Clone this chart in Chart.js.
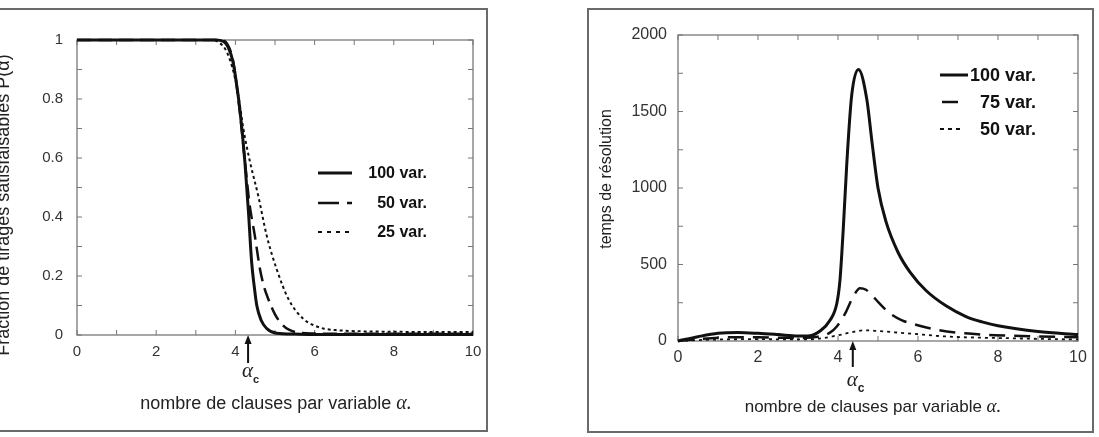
<!DOCTYPE html>
<html>
<head>
<meta charset="utf-8">
<script src="https://cdn.jsdelivr.net/npm/chart.js@4.4.0/dist/chart.umd.min.js"></script>
<style>
html,body{margin:0;padding:0;background:#fff;width:1099px;height:437px;overflow:hidden;position:relative;}
.box{position:absolute;border:2px solid #6a6a6a;box-sizing:border-box;}
#b1{left:-4px;top:8px;width:492px;height:424px;}
#b2{left:587px;top:8px;width:507px;height:425px;}
canvas{position:absolute;top:0;}
#c1{left:0;}
#c2{left:540px;}
</style>
</head>
<body>
<div class="box" id="b1"></div>
<div class="box" id="b2"></div>
<canvas id="c1" width="540" height="437" style="width:540px;height:437px"></canvas>
<canvas id="c2" width="559" height="437" style="width:559px;height:437px"></canvas>
<script>
// ---------- Left chart: fraction of satisfiable draws P(alpha) ----------
const sat100X = [0, 1, 2, 3, 3.5, 3.7, 3.82, 3.94, 4.03, 4.12, 4.24, 4.33, 4.41, 4.48, 4.54, 4.65, 4.79, 5.04, 5.5, 6, 7, 8, 9, 10];
const sat100Y = [1, 1, 1, 1, 1, 0.995, 0.975, 0.925, 0.85, 0.756, 0.586, 0.417, 0.247, 0.16, 0.1, 0.05, 0.022, 0.006, 0.003, 0.002, 0.002, 0.002, 0.002, 0.002];
const sat50X = [0, 1, 2, 3, 3.6, 3.8, 3.94, 4.1, 4.24, 4.35, 4.49, 4.62, 4.72, 4.83, 5.0, 5.17, 5.35, 5.6, 6, 7, 8, 9, 10];
const sat50Y = [1, 1, 1, 1, 1, 0.985, 0.93, 0.77, 0.59, 0.45, 0.337, 0.224, 0.165, 0.122, 0.07, 0.037, 0.018, 0.008, 0.005, 0.004, 0.004, 0.004, 0.004];
const sat25X = [0, 1, 2, 3, 3.43, 3.6, 3.74, 3.87, 3.99, 4.1, 4.2, 4.37, 4.58, 4.79, 5.04, 5.34, 5.72, 6.0, 6.22, 6.6, 7, 8, 9, 10];
const sat25Y = [1, 1, 1, 1, 1, 0.99, 0.97, 0.93, 0.87, 0.79, 0.70, 0.586, 0.47, 0.337, 0.224, 0.122, 0.054, 0.032, 0.022, 0.016, 0.013, 0.011, 0.01, 0.01];
const leftLabels = ['100 var.', '50 var.', '25 var.'];
const leftAlphaC = 4.32;

// ---------- Right chart: resolution time ----------
const time100X = [0, 0.5, 1, 1.5, 2, 2.5, 3, 3.3, 3.55, 3.8, 3.97, 4.05, 4.13, 4.22, 4.34, 4.51, 4.72, 4.85, 5.0, 5.2, 5.5, 5.8, 6.2, 6.7, 7.2, 7.6, 8, 9, 10];
const time100Y = [0, 28, 50, 55, 50, 42, 33, 35, 65, 135, 245, 400, 725, 1160, 1600, 1775, 1580, 1300, 1000, 780, 580, 450, 330, 230, 160, 125, 100, 62, 42];
const time75X = [0, 0.5, 1, 1.5, 2, 2.5, 3, 3.5, 3.8, 3.97, 4.18, 4.38, 4.55, 4.7, 4.88, 5.0, 5.3, 5.6, 5.97, 6.5, 7.17, 7.92, 9, 10];
const time75Y = [0, 12, 22, 25, 24, 22, 20, 28, 55, 95, 180, 290, 345, 335, 290, 256, 180, 135, 105, 72, 50, 38, 30, 25];
const time50X = [0, 0.5, 1, 2, 3, 3.5, 4.0, 4.3, 4.67, 5.0, 5.5, 5.83, 6.67, 7.5, 8.33, 9, 10];
const time50Y = [0, 6, 10, 12, 10, 15, 37, 55, 70, 65, 55, 48, 30, 22, 18, 14, 10];
const rightLabels = ['100 var.', '75 var.', '50 var.'];
const rightAlphaC = 4.37;

const xTitle = 'nombre de clauses par variable ';
const leftYTitle = 'Fraction de tirages satisfaisables P(\u03B1)';
const rightYTitle = 'temps de r\u00E9solution';

const SANS = '"Liberation Sans", Arial, Helvetica, sans-serif';
const SERIF = '"Liberation Serif", "DejaVu Serif", serif';
const INK = '#111';

function pts(xs, ys) { return xs.map((x, i) => ({x: x, y: ys[i]})); }

function series(label, xs, ys, width, dash) {
  return {label: label, data: pts(xs, ys), borderColor: INK, backgroundColor: INK,
    borderWidth: width, borderDash: dash, pointRadius: 0, fill: false,
    cubicInterpolationMode: 'monotone', clip: false};
}

function arrowAndAlpha(ctx, x, tipY, tailY, aY, aSize, cSize) {
  ctx.save();
  ctx.strokeStyle = INK; ctx.fillStyle = INK; ctx.lineWidth = 2;
  ctx.beginPath(); ctx.moveTo(x, tipY + 6); ctx.lineTo(x, tailY); ctx.stroke();
  ctx.beginPath(); ctx.moveTo(x, tipY); ctx.lineTo(x - 3.5, tipY + 9); ctx.lineTo(x + 3.5, tipY + 9); ctx.closePath(); ctx.fill();
  ctx.fillStyle = '#222';
  ctx.font = 'italic ' + aSize + 'px ' + SERIF;
  ctx.textAlign = 'right'; ctx.textBaseline = 'alphabetic';
  ctx.fillText('\u03B1', x + 5, aY);
  ctx.font = 'bold ' + cSize + 'px ' + SANS;
  ctx.textAlign = 'left';
  ctx.fillText('c', x + 5, aY + 6);
  ctx.restore();
}

function xAxisTitle(ctx, cx, baseY, size) {
  ctx.save();
  ctx.fillStyle = '#222';
  ctx.textBaseline = 'alphabetic'; ctx.textAlign = 'left';
  ctx.font = size + 'px ' + SANS;
  const w1 = ctx.measureText(xTitle).width;
  ctx.font = 'italic ' + (size + 2) + 'px ' + SERIF;
  const w2 = ctx.measureText('\u03B1.').width;
  const x0 = cx - (w1 + w2) / 2;
  ctx.font = size + 'px ' + SANS;
  ctx.fillText(xTitle, x0, baseY);
  ctx.font = 'italic ' + (size + 2) + 'px ' + SERIF;
  ctx.fillText('\u03B1.', x0 + w1, baseY);
  ctx.restore();
}

function yAxisTitle(ctx, text, baseX, cy, size) {
  ctx.save();
  ctx.translate(baseX, cy);
  ctx.rotate(-Math.PI / 2);
  ctx.fillStyle = '#222';
  ctx.font = size + 'px ' + SANS;
  ctx.textAlign = 'center'; ctx.textBaseline = 'alphabetic';
  ctx.fillText(text, 0, 0);
  ctx.restore();
}

function legendRow(ctx, x0, x1, y, width, dash, text, textRight, size) {
  ctx.save();
  ctx.strokeStyle = INK; ctx.lineWidth = width; ctx.setLineDash(dash);
  ctx.beginPath(); ctx.moveTo(x0, y); ctx.lineTo(x1, y); ctx.stroke();
  ctx.setLineDash([]);
  ctx.fillStyle = '#111';
  ctx.font = 'bold ' + size + 'px ' + SANS;
  ctx.textAlign = 'right'; ctx.textBaseline = 'middle';
  ctx.fillText(text, textRight, y + 1);
  ctx.restore();
}

function deco(drawExtra) {
  return {
    id: 'deco',
    beforeDatasetsDraw(chart) {
      const ctx = chart.ctx, a = chart.chartArea, x = chart.scales.x, y = chart.scales.y;
      ctx.save();
      ctx.strokeStyle = '#8a8a8a'; ctx.lineWidth = 1.5;
      ctx.strokeRect(a.left, a.top, a.right - a.left, a.bottom - a.top);
      ctx.lineWidth = 1; ctx.strokeStyle = '#777';
      const L = 5;
      ctx.beginPath();
      x.ticks.forEach(t => { const p = x.getPixelForValue(t.value);
        ctx.moveTo(p, a.bottom); ctx.lineTo(p, a.bottom - L);
        ctx.moveTo(p, a.top); ctx.lineTo(p, a.top + L); });
      y.ticks.forEach(t => { const p = y.getPixelForValue(t.value);
        ctx.moveTo(a.left, p); ctx.lineTo(a.left + L, p);
        ctx.moveTo(a.right, p); ctx.lineTo(a.right - L, p); });
      ctx.stroke();
      ctx.restore();
    },
    afterDraw(chart) { drawExtra(chart); }
  };
}

function baseOptions(pad, yWidth, xHeight, yMin, yMax, yStep, yCb, tickSize, xPad, yPad) {
  const tickFont = {family: SANS, size: tickSize};
  return {
    responsive: false, animation: false, maintainAspectRatio: false,
    layout: {padding: pad},
    plugins: {legend: {display: false}, tooltip: {enabled: false}},
    scales: {
      x: {type: 'linear', min: 0, max: 10,
        afterFit(s) { s.height = xHeight; },
        grid: {display: false, drawTicks: false}, border: {display: false},
        ticks: {stepSize: 1, autoSkip: false, maxRotation: 0, minRotation: 0, padding: xPad, color: '#333', font: tickFont,
          callback: v => (Math.round(v) % 2 === 0 ? String(Math.round(v)) : '')}},
      y: {type: 'linear', min: yMin, max: yMax,
        afterFit(s) { s.width = yWidth; },
        grid: {display: false, drawTicks: false}, border: {display: false},
        ticks: {stepSize: yStep, autoSkip: false, padding: yPad, color: '#333', font: tickFont, callback: yCb}}
    }
  };
}

// Left chart
new Chart(document.getElementById('c1'), {
  type: 'line',
  data: {datasets: [
    series(leftLabels[0], sat100X, sat100Y, 3, []),
    series(leftLabels[1], sat50X, sat50Y, 2.5, [14, 7]),
    series(leftLabels[2], sat25X, sat25Y, 2, [3, 3])
  ]},
  options: baseOptions({left: 0, top: 40, right: 67, bottom: 62}, 77, 40, 0, 1, 0.1,
    v => { const k = Math.round(v * 10); if (k % 2) return ''; return k === 0 ? '0' : (k === 10 ? '1' : (k / 10).toFixed(1)); },
    15, 8, 14),
  plugins: [deco(chart => {
    const ctx = chart.ctx, a = chart.chartArea, xs = chart.scales.x;
    const cx = (a.left + a.right) / 2;
    xAxisTitle(ctx, cx + 1, 409, 18);
    yAxisTitle(ctx, leftYTitle, 8.5, 205, 18);
    arrowAndAlpha(ctx, xs.getPixelForValue(leftAlphaC), a.bottom, a.bottom + 28, 377, 21, 11);
    const styles = [[3, []], [2.5, [21, 8, 5, 100]], [1.8, [4, 5]]];
    const rows = [a.top + 133, a.top + 163, a.top + 192];
    rows.forEach((yy, i) => legendRow(ctx, a.left + 241, a.left + 275, yy, styles[i][0], styles[i][1], leftLabels[i], a.left + 350, 16));
  })]
});

// Right chart
new Chart(document.getElementById('c2'), {
  type: 'line',
  data: {datasets: [
    series(rightLabels[0], time100X, time100Y, 3, []),
    series(rightLabels[1], time75X, time75Y, 2.5, [16, 9]),
    series(rightLabels[2], time50X, time50Y, 1.8, [3, 4])
  ]},
  options: baseOptions({left: 0, top: 35, right: 21, bottom: 56}, 138, 40, 0, 2000, 250,
    v => (v % 500 === 0 ? String(v) : ''),
    16, 7, 11),
  plugins: [deco(chart => {
    const ctx = chart.ctx, a = chart.chartArea, xs = chart.scales.x;
    const cx = (a.left + a.right) / 2;
    xAxisTitle(ctx, cx - 5, 412, 17);
    yAxisTitle(ctx, rightYTitle, 71, 179, 16);
    arrowAndAlpha(ctx, xs.getPixelForValue(rightAlphaC), a.bottom, a.bottom + 26, 386, 21, 12);
    const styles = [[3, []], [2.5, []], [1.8, [4, 4]]];
    const segs = [[a.left + 262, a.left + 290], [a.left + 264, a.left + 280], [a.left + 262, a.left + 282]];
    const rows = [a.top + 40, a.top + 67, a.top + 94];
    rows.forEach((yy, i) => legendRow(ctx, segs[i][0], segs[i][1], yy, styles[i][0], styles[i][1], rightLabels[i], a.left + 358, 18));
  })]
});
</script>
</body>
</html>
